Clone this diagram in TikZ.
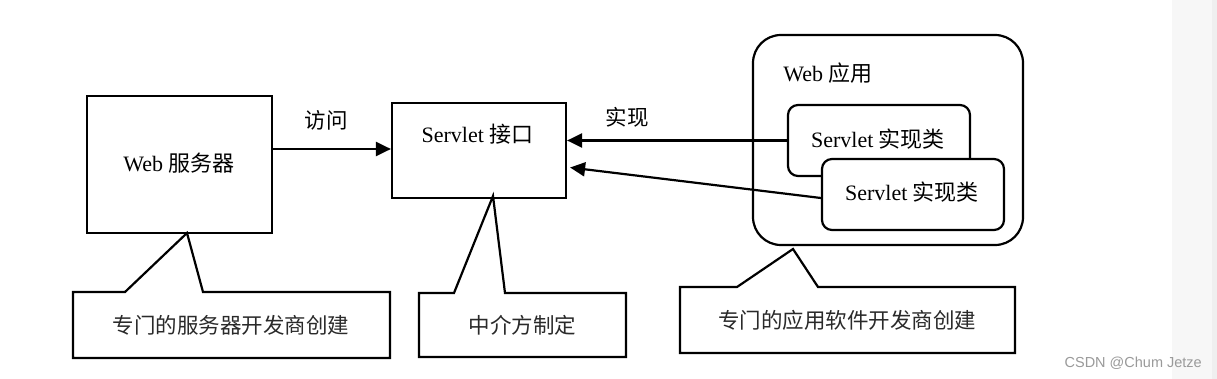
\documentclass[tikz,border=0pt]{standalone}
\usepackage{fontspec}
\setmainfont{Liberation Serif}
\newfontfamily\cjk{Noto Sans CJK SC}
\newfontfamily\wmfont{Liberation Sans}
\usetikzlibrary{arrows.meta,calc}
\definecolor{stripgray}{HTML}{F7F7F7}
\definecolor{stripgrayb}{HTML}{EFEFEF}
\definecolor{wmgray}{HTML}{9A9A9A}
\definecolor{calltext}{HTML}{2A2A2A}
\tikzset{
  box/.style={draw=black,line width=2.2pt,fill=white,inner sep=0pt},
  rbox/.style={box,rounded corners=10pt},
  lbl/.style={font=\fontsize{22}{26}\selectfont,inner sep=0pt},
  clbl/.style={font=\fontsize{21.5}{25}\selectfont\cjk,text=calltext,inner sep=0pt},
  conn/.style={line width=2.2pt,-{Triangle[length=15pt,width=14pt]}},
  callout/.style={draw=black,line width=2.2pt,line join=miter}
}
\begin{document}
\begin{tikzpicture}[x=1pt,y=-1pt]
\useasboundingbox (0,0) rectangle (1217,379);
\fill[white] (0,0) rectangle (1217,379);
\fill[stripgray] (1172,0) rectangle (1217,379);
\fill[stripgrayb] (1212,0) rectangle (1217,379);

% Web server
\node[box,minimum width=185pt,minimum height=137pt] (ws) at (179.5,164.5) {};
\node[lbl] (wst) at (179,163) {Web {\cjk 服务器}};

% Servlet interface
\node[box,minimum width=174pt,minimum height=95pt] (srv) at (479,150.5) {};
\node[lbl] (srvt) at (477.5,134) {Servlet {\cjk 接口}};

% access arrow
\coordinate (wsout) at ($(ws.east)+(0,-15.5)$);
\draw[conn] (wsout) -- (wsout -| srv.west);
\node[lbl,font=\fontsize{21.5}{25}\selectfont\cjk] (acc) at (326,120) {访问};

% Web application
\node[box,rounded corners=28pt,minimum width=270pt,minimum height=210pt] (app) at (888,140) {};
\node[lbl] (appt) at (828,73) {Web {\cjk 应用}};
\node[rbox,minimum width=182pt,minimum height=71pt] (b1) at (879,140.5) {};
\node[lbl] (b1t) at (878,139) {Servlet {\cjk 实现类}};
\node[rbox,minimum width=182pt,minimum height=71pt] (b2) at (913,194.5) {};
\node[lbl] (b2t) at (912,192) {Servlet {\cjk 实现类}};

% implementation arrows
\draw[conn] (b1.west) -- (b1.west -| srv.east);
\coordinate (b2out) at ($(b2.west)+(0,3.5)$);
\coordinate (srvin) at ($(srv.east)+(3,17)$);
\draw[conn] (b2out) -- (srvin);
\node[lbl,font=\fontsize{21.5}{25}\selectfont\cjk] (impl) at (627,117) {实现};

% callouts
\draw[callout] (125,292) -- (73,292) -- (73,358) -- (390,358) -- (390,292) -- (203,292) -- (187,233) -- cycle;
\node[clbl] (c1) at (231,325) {专门的服务器开发商创建};

\draw[callout] (454,293) -- (419,293) -- (419,357) -- (626,357) -- (626,293) -- (505,293) -- (493,196) -- cycle;
\node[clbl] (c2) at (522.5,325) {中介方制定};

\draw[callout] (737,287) -- (680,287) -- (680,353) -- (1015,353) -- (1015,287) -- (818,287) -- (793,249) -- cycle;
\node[clbl] (c3) at (847,320) {专门的应用软件开发商创建};

% watermark
\node[font=\fontsize{14.5}{16}\wmfont,text=wmgray,anchor=east,inner sep=0pt] (wm) at (1202,363) {CSDN @Chum Jetze};
\end{tikzpicture}
\end{document}
